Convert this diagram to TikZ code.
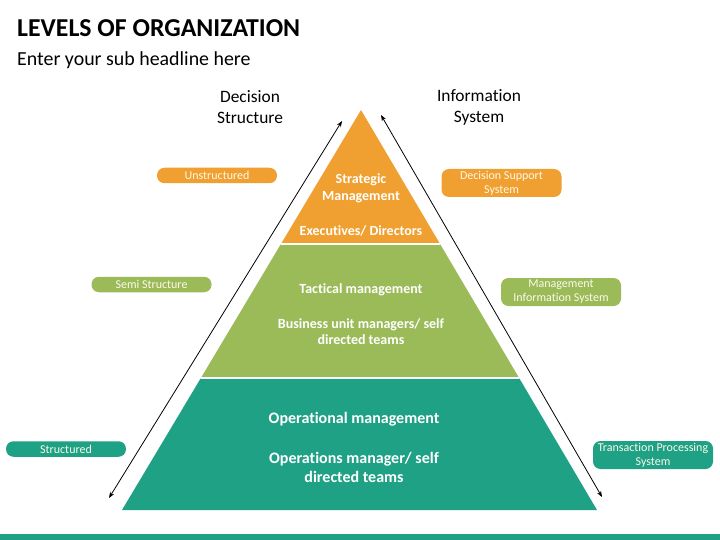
\documentclass[tikz,border=0pt]{standalone}
\usepackage{fontspec}
\setmainfont{Carlito}[Ligatures=NoCommon]
\usetikzlibrary{arrows.meta}
\definecolor{orng}{HTML}{F0A030}
\definecolor{grn}{HTML}{9BBB59}
\definecolor{tealc}{HTML}{1FA185}
\definecolor{pilltext}{HTML}{FFF8EC}
\begin{document}
\begin{tikzpicture}[x=1pt,y=-1pt,
  pill/.style={rounded corners=7.5pt, minimum width=120pt, inner sep=1pt, align=center,
     text=pilltext, font=\fontsize{12}{14}\selectfont},
  pillone/.style={pill, minimum height=15.5pt},
  pilltwo/.style={pill, minimum height=28pt},
  lvltext/.style={text=white, align=center, font=\bfseries\fontsize{14}{16.5}\selectfont},
  lvlbig/.style={text=white, align=center, font=\bfseries\fontsize{16}{19}\selectfont},
  head/.style={align=center, font=\fontsize{17.4}{21}\selectfont},
  biarrow/.style={{Stealth[length=6pt,width=4.5pt]}-{Stealth[length=6pt,width=4.5pt]}, line width=0.8pt}]
\useasboundingbox (0,0) rectangle (720,540);
\fill[white] (0,0) rectangle (720,540);

% title
\node[anchor=base west, inner sep=0, font=\bfseries\fontsize{25.8}{30}\selectfont] (title) at (17,37) {LEVELS OF ORGANIZATION};
\node[anchor=base west, inner sep=0, font=\fontsize{19.9}{24}\selectfont] (sub) at (17,66) {Enter your sub headline here};

% headings
\node[head] (dshead) at (250,107.5) {Decision\\Structure};
\node[head] (ishead) at (479,107.5) {Information\\System};

% pyramid
\coordinate (apex) at (361,110);
\coordinate (bl) at (122,510);
\coordinate (br) at (597,510);
\begin{scope}
  \clip (apex) -- (br) -- (bl) -- cycle;
  \fill[orng] (100,100) rectangle (620,244);
  \fill[grn] (100,244) rectangle (620,377.5);
  \fill[tealc] (100,377.5) rectangle (620,520);
  \draw[white, line width=2pt] (100,244) -- (620,244);
  \draw[white, line width=2pt] (100,377.5) -- (620,377.5);
\end{scope}

% pyramid texts
\node[lvltext] (strat) at (361,188.5) {Strategic\\Management};
\node[lvltext] (exec) at (361,231) {Executives/ Directors};
\node[lvltext] (tact) at (361,289.5) {Tactical management};
\node[lvltext] (bum) at (361,331.5) {Business unit managers/ self\\directed teams};
\node[lvlbig] (opm) at (354,419) {Operational management};
\node[lvlbig] (ops) at (354,467) {Operations manager/ self\\directed teams};

% arrows
\coordinate (la1) at (342,121);
\coordinate (la2) at (109,498);
\coordinate (ra1) at (381,115);
\coordinate (ra2) at (602,497);
\draw[biarrow] (la1) -- (la2);
\draw[biarrow] (ra1) -- (ra2);

% pills
\node[pillone, fill=orng] (unst) at (217,175.5) {Unstructured};
\node[pilltwo, fill=orng] (dss) at (501.5,183) {Decision Support\\System};
\node[pillone, fill=grn] (semi) at (151.5,284.5) {Semi Structure};
\node[pilltwo, fill=grn] (mis) at (561,292) {Management\\Information System};
\node[pillone, fill=tealc] (struct) at (66,449) {Structured};
\node[pilltwo, fill=tealc] (tps) at (653,455) {Transaction Processing\\System};

% bottom bar
\fill[tealc] (0,534) rectangle (720,540);
\end{tikzpicture}
\end{document}
